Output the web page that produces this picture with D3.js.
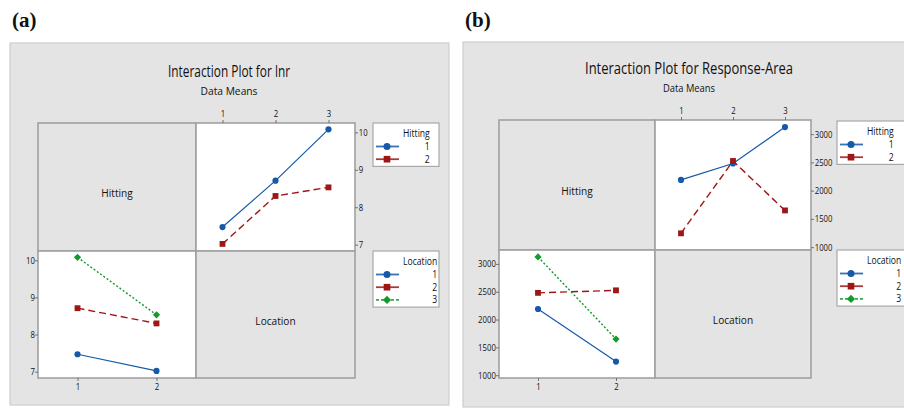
<!DOCTYPE html>
<html>
<head>
<meta charset="utf-8">
<script src="https://cdn.jsdelivr.net/npm/d3@7"></script>
<style>
  html, body { margin: 0; padding: 0; background: #ffffff; }
  svg { display: block; }
</style>
</head>
<body>
<svg id="chart" width="904" height="410"></svg>
<script>
// Factor levels
const hittingLevels = [1, 2];
const locationLevels = [1, 2, 3];

// Cell means of lnr, one array per Hitting level, indexed by Location
const lnrHitting1 = [7.47, 8.71, 10.08];
const lnrHitting2 = [7.02, 8.30, 8.53];

// Cell means of Response-Area, one array per Hitting level, indexed by Location
const areaHitting1 = [2190, 2480, 3125];
const areaHitting2 = [1245, 2525, 1650];

// Axis ticks
const lnrTicks = [7, 8, 9, 10];
const areaTicks = [1000, 1500, 2000, 2500, 3000];

// Series styling by level number (1, 2, 3); level 3 uses a square turned 45 degrees
const levelStyle = {
  1: { color: "#1559a8", dash: null,  symbol: d3.symbolCircle, size: 30, rot: 0,  width: 1.2 },
  2: { color: "#9e1616", dash: "7,4", symbol: d3.symbolSquare, size: 34, rot: 0,  width: 1.4 },
  3: { color: "#139a2c", dash: "2,2", symbol: d3.symbolSquare, size: 26, rot: 45, width: 1.4 }
};

const FONT = "'Open Sans', 'Noto Sans', sans-serif";
const SQ = 0.82; // narrow text

const svg = d3.select("#chart");

function txt(parent, x, y, str, size, anchor, opts = {}) {
  const t = parent.append("text")
    .attr("transform", `translate(${x},${y}) scale(${opts.sx || SQ},1)`)
    .attr("text-anchor", anchor)
    .attr("font-family", opts.family || FONT)
    .attr("font-size", size)
    .attr("font-weight", opts.weight || "normal")
    .attr("fill", "#111")
    .text(str);
  if (opts.len) {
    t.attr("transform", `translate(${x},${y})`)
     .attr("textLength", opts.len)
     .attr("lengthAdjust", "spacingAndGlyphs");
  }
  return t;
}

function styleAxis(g) {
  g.select(".domain").remove();
  g.selectAll(".tick line").attr("stroke", "#666").attr("stroke-width", 0.9);
  g.selectAll(".tick text")
    .attr("font-family", FONT)
    .attr("font-size", 9.5)
    .attr("fill", "#111")
    .attr("transform", `scale(${SQ},1)`);
}

function marker(parent, st, x, y, scale) {
  parent.append("path")
    .attr("d", d3.symbol().type(st.symbol).size(st.size * scale)())
    .attr("transform", `translate(${x},${y}) rotate(${st.rot})`)
    .attr("fill", st.color);
}

function drawPanel(p) {
  const root = svg.append("g");
  const G = p.grid;

  // panel tag
  txt(root, p.tag.x, p.tag.y, p.tag.text, 21, "start",
      { family: "'Liberation Serif', 'Times New Roman', serif", weight: "bold", sx: 1 });

  // background frame
  root.append("rect")
    .attr("x", p.frame[0]).attr("y", p.frame[1])
    .attr("width", p.frame[2] - p.frame[0]).attr("height", p.frame[3] - p.frame[1])
    .attr("fill", "#e4e4e4").attr("stroke", "#cdcdcd").attr("stroke-width", 1.2);

  // titles
  txt(root, p.title.x, p.title.y, p.title.text, 17, "middle", { len: p.title.len });
  txt(root, p.title.x, p.sub.y, "Data Means", 11.5, "middle", { len: p.sub.len });

  // matrix cells
  const cells = [
    [G.x0, G.y0, G.xm, G.ym, "#e4e4e4"],
    [G.xm, G.y0, G.x1, G.ym, "#ffffff"],
    [G.x0, G.ym, G.xm, G.y1, "#ffffff"],
    [G.xm, G.ym, G.x1, G.y1, "#e4e4e4"]
  ];
  cells.forEach(c => {
    root.append("rect")
      .attr("x", c[0]).attr("y", c[1]).attr("width", c[2] - c[0]).attr("height", c[3] - c[1])
      .attr("fill", c[4]).attr("stroke", "#a0a0a0").attr("stroke-width", 1.6);
  });

  txt(root, (G.x0 + G.xm) / 2, (G.y0 + G.ym) / 2 + 10, "Hitting", 11.5, "middle", { sx: 0.88 });
  txt(root, (G.xm + G.x1) / 2, (G.ym + G.y1) / 2 + 10, "Location", 11.5, "middle", { sx: 0.88 });

  // scales
  const xLoc = d3.scaleLinear().domain([0.5, 3.5]).range([G.xm, G.x1]);
  const xHit = d3.scaleLinear().domain([0.5, 2.5]).range([G.x0, G.xm]);
  const yTop = d3.scaleLinear().domain(p.yDomain).range([G.ym, G.y0]);
  const yBot = d3.scaleLinear().domain(p.yDomain).range([G.y1, G.ym]);

  // axes
  root.append("g").attr("transform", `translate(0,${G.y0})`)
    .call(d3.axisTop(xLoc).tickValues(locationLevels).tickSize(3).tickPadding(3).tickFormat(d3.format("d")))
    .call(styleAxis);
  root.append("g").attr("transform", `translate(${G.x1},0)`)
    .call(d3.axisRight(yTop).tickValues(p.ticks).tickSize(3).tickPadding(1.5).tickFormat(d3.format("d")))
    .call(styleAxis);
  root.append("g").attr("transform", `translate(${G.x0},0)`)
    .call(d3.axisLeft(yBot).tickValues(p.ticks).tickSize(3).tickPadding(0.8).tickFormat(d3.format("d")))
    .call(styleAxis);
  root.append("g").attr("transform", `translate(0,${G.y1})`)
    .call(d3.axisBottom(xHit).tickValues(hittingLevels).tickSize(3).tickPadding(2).tickFormat(d3.format("d")))
    .call(styleAxis);

  const byHitting = [p.h1, p.h2];

  function series(xs, ys, xScale, yScale, level) {
    const st = levelStyle[level];
    const pts = xs.map((x, i) => [xScale(x), yScale(ys[i])]);
    root.append("path")
      .attr("d", d3.line()(pts))
      .attr("fill", "none").attr("stroke", st.color)
      .attr("stroke-width", st.width)
      .attr("stroke-dasharray", st.dash);
    pts.forEach(pt => marker(root, st, pt[0], pt[1], 1));
  }

  // Top-right: mean vs Location, one line per Hitting level
  hittingLevels.forEach((h, i) => series(locationLevels, byHitting[i], xLoc, yTop, h));
  // Bottom-left: mean vs Hitting, one line per Location level
  locationLevels.forEach((l, j) => series(hittingLevels, byHitting.map(arr => arr[j]), xHit, yBot, l));

  // legends
  function legend(top, title, levels) {
    const lx = p.legendX;
    const h = 18 + levels.length * 12.7;
    root.append("rect").attr("x", lx).attr("y", top).attr("width", p.legendW).attr("height", h)
      .attr("fill", "#ffffff").attr("stroke", "#a8a8a8").attr("stroke-width", 1.2);
    const t = txt(root, lx + 30, top + 14, title, 10.5, "start", { sx: 0.82 });
    const titleRight = lx + 30 + t.node().getComputedTextLength() * 0.82;
    levels.forEach((lv, k) => {
      const st = levelStyle[lv];
      const yy = top + 23.5 + k * 12.7;
      root.append("line").attr("x1", lx + 3).attr("x2", lx + 26).attr("y1", yy).attr("y2", yy)
        .attr("stroke", st.color).attr("stroke-width", 1.8).attr("stroke-opacity", 0.85)
        .attr("stroke-dasharray", lv === 3 ? "3,2" : null);
      marker(root, st, lx + 14, yy, 1.3);
      txt(root, titleRight, yy + 3.5, String(lv), 10.5, "end", { sx: 0.82 });
    });
  }
  legend(p.legHTop, "Hitting", hittingLevels);
  legend(p.legLTop, "Location", locationLevels);
}

drawPanel({
  tag: { x: 12, y: 27, text: "(a)" },
  frame: [10, 43, 449, 405],
  grid: { x0: 38, xm: 196, x1: 355, y0: 123, ym: 251, y1: 378 },
  title: { x: 229, y: 77, text: "Interaction Plot for lnr", len: 122 },
  sub: { y: 95, len: 57 },
  yDomain: [6.83, 10.25],
  ticks: lnrTicks,
  h1: lnrHitting1, h2: lnrHitting2,
  legendX: 373, legendW: 66, legHTop: 123, legLTop: 251
});

drawPanel({
  tag: { x: 465, y: 27, text: "(b)" },
  frame: [463, 42, 912, 407],
  grid: { x0: 499, xm: 655, x1: 811, y0: 120, ym: 250, y1: 378 },
  title: { x: 689, y: 74, text: "Interaction Plot for Response-Area", len: 208 },
  sub: { y: 92, len: 52 },
  yDomain: [950, 3250],
  ticks: areaTicks,
  h1: areaHitting1, h2: areaHitting2,
  legendX: 837, legendW: 80, legHTop: 121, legLTop: 250
});
</script>
</body>
</html>
